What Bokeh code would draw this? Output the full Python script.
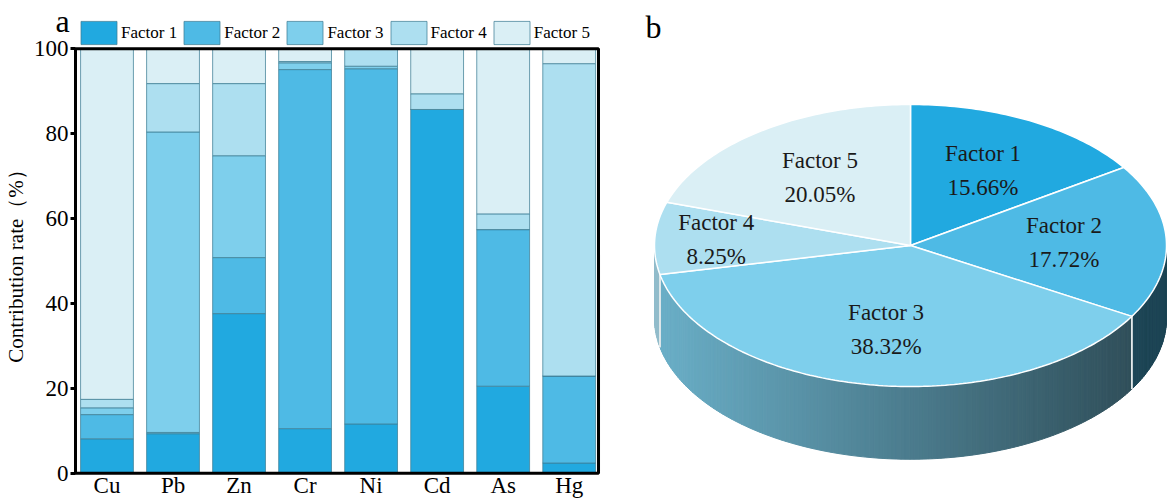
import numpy as np
from bokeh.plotting import figure
from bokeh.models import (ColumnDataSource, Range1d, FixedTicker, LinearAxis,
                          Legend, LegendItem, Label)
from bokeh.layouts import row
from bokeh.embed import file_html
from bokeh.resources import INLINE
from bokeh.core.properties import value

# ---------------- data ----------------
metals = ["Cu", "Pb", "Zn", "Cr", "Ni", "Cd", "As", "Hg"]
factor_names = ["Factor 1", "Factor 2", "Factor 3", "Factor 4", "Factor 5"]

# contribution (%) of each factor to each metal
factor1 = [8.1, 9.3, 37.6, 10.5, 11.6, 85.7, 20.5, 2.4]
factor2 = [5.7, 0.3, 13.2, 84.6, 83.7, 0.0, 36.9, 20.5]
factor3 = [1.6, 70.8, 24.0, 1.6, 0.6, 0.0, 0.0, 0.0]
factor4 = [2.0, 11.4, 17.0, 0.3, 4.1, 3.7, 3.7, 73.6]
factor5 = [82.6, 8.2, 8.2, 3.0, 0.0, 10.6, 38.9, 3.5]

# overall share of each factor (pie)
pie_shares = [15.66, 17.72, 38.32, 8.25, 20.05]

y_ticks = [0, 20, 40, 60, 80, 100]

# ---------------- styling ----------------
colors = ["#21a9e0", "#4ebae5", "#7ecfec", "#addff0", "#daeff5"]
SERIF = "Liberation Serif"
FONT = value(SERIF)
H = 499

# ---------------- panel a: stacked bars ----------------
# the plotting frame fills the whole canvas; the axes are pinned to the
# edges of the data box so that the panel letter and legend can sit around it
xpos = list(range(len(metals)))
box_left, box_right = -0.477, len(metals) - 1 + 0.444
src = ColumnDataSource(dict(x=xpos, **{
    "Factor 1": factor1, "Factor 2": factor2, "Factor 3": factor3,
    "Factor 4": factor4, "Factor 5": factor5}))

pa = figure(width=620, height=H, x_range=Range1d(-1.613, 7.777),
            y_range=Range1d(-6.2, 111.38), output_backend="svg",
            toolbar_location=None, min_border=0, x_axis_type=None,
            y_axis_type=None)
pa.xgrid.visible = False
pa.ygrid.visible = False
pa.outline_line_color = None

bars = pa.vbar_stack(factor_names, x="x", width=0.8, source=src,
                     fill_color=colors, line_color="#3f7f96",
                     line_width=1, line_alpha=0.75)

# data box outline
pa.quad(left=[box_left], right=[box_right], bottom=[y_ticks[0]],
        top=[y_ticks[-1]], fill_color=None, line_color="black",
        line_width=3)

yaxis = LinearAxis(fixed_location=box_left, bounds=(y_ticks[0], y_ticks[-1]),
                   ticker=FixedTicker(ticks=y_ticks))
yaxis.axis_line_color = None
yaxis.major_tick_out = 5
yaxis.major_tick_in = 0
yaxis.major_tick_line_width = 3
yaxis.minor_tick_line_color = None
yaxis.major_label_standoff = 2
yaxis.axis_label = "Contribution rate（%）"
yaxis.axis_label_standoff = 3
yaxis.axis_label_text_font = SERIF
yaxis.axis_label_text_font_style = "normal"
yaxis.axis_label_text_font_size = "21px"
yaxis.axis_label_text_color = "black"
pa.add_layout(yaxis, "left")

xaxis = LinearAxis(fixed_location=y_ticks[0], ticker=FixedTicker(ticks=xpos),
                   major_label_overrides={i: m for i, m in zip(xpos, metals)})
xaxis.axis_line_color = None
xaxis.major_tick_line_color = None
xaxis.major_tick_out = 0
xaxis.minor_tick_line_color = None
xaxis.major_label_standoff = 0
pa.add_layout(xaxis, "below")

for ax in (xaxis, yaxis):
    ax.major_label_text_font = SERIF
    ax.major_label_text_font_size = "23px"
    ax.major_label_text_color = "black"

legend = Legend(items=[LegendItem(label=n, renderers=[r])
                       for n, r in zip(factor_names, bars)],
                orientation="horizontal", location=(76, H - 47),
                glyph_width=45, glyph_height=29, label_standoff=0,
                spacing=2, padding=0, margin=0,
                border_line_color=None, background_fill_alpha=0,
                label_text_font=SERIF,
                label_text_font_size="17px", label_text_color="black")
pa.add_layout(legend, "center")

pa.add_layout(Label(x=55, y=H - 20, x_units="screen", y_units="screen",
                    text="a", text_font=SERIF, text_baseline="alphabetic",
                    text_font_size="32px", text_color="black"))

# ---------------- panel b: 3-D style pie ----------------
# ranges chosen so that a unit circle is drawn as a flattened ellipse
cx_px, cy_px, rx_px, ry_px = 290, 245, 256, 141
pb = figure(width=547, height=H,
            x_range=Range1d(-cx_px / rx_px, (547 - cx_px) / rx_px),
            y_range=Range1d(-(H - cy_px) / ry_px, cy_px / ry_px),
            output_backend="svg", toolbar_location=None, min_border=0,
            x_axis_type=None, y_axis_type=None)
pb.xgrid.visible = False
pb.ygrid.visible = False
pb.outline_line_color = None

depth = 0.516
total = sum(pie_shares)
cum = np.concatenate([[0.0], np.cumsum(pie_shares)]) / total * 360.0
starts = 90.0 - cum[:-1]   # clockwise from 12 o'clock
ends = 90.0 - cum[1:]


def hex_rgb(h):
    return tuple(int(h[i:i + 2], 16) for i in (1, 3, 5))


def shade(h, x):
    f = min(max(0.6 - 0.25 * x, 0.37), 0.85)
    r, g, b = hex_rgb(h)
    return "#%02x%02x%02x" % (int(r * f), int(g * f), int(b * f))


# side wall: thin strips along the front half of the rim
side_xs, side_ys, side_cols = [], [], []
sep_x, sep_y0, sep_y1 = [], [], []
for i in range(len(pie_shares)):
    lo = max(ends[i], -180.0)
    hi = min(starts[i], 0.0)
    if hi <= lo:
        continue
    n = max(2, int(np.ceil(hi - lo)))
    a = np.radians(np.linspace(lo, hi, n + 1))
    for k in range(n):
        xa, xb = np.cos(a[k]), np.cos(a[k + 1])
        ya, yb = np.sin(a[k]), np.sin(a[k + 1])
        side_xs.append([xa, xb, xb, xa])
        side_ys.append([ya, yb, yb - depth, ya - depth])
        side_cols.append(shade(colors[i], 0.5 * (xa + xb)))
    for edge in (lo, hi):
        if -180.0 < edge < 0.0:
            t = np.radians(edge)
            sep_x.append(np.cos(t))
            sep_y0.append(np.sin(t))
            sep_y1.append(np.sin(t) - depth)

pb.patches(side_xs, side_ys, fill_color=side_cols, line_color=side_cols,
           line_width=1)
pb.segment(x0=sep_x, y0=sep_y0, x1=sep_x, y1=sep_y1,
           line_color="#e4eaec", line_width=1.5)

# top face wedges
top_xs, top_ys = [], []
for i in range(len(pie_shares)):
    n = max(2, int(np.ceil(starts[i] - ends[i])))
    a = np.radians(np.linspace(starts[i], ends[i], n + 1))
    top_xs.append([0.0] + list(np.cos(a)))
    top_ys.append([0.0] + list(np.sin(a)))
pb.patches(top_xs, top_ys, fill_color=colors, line_color="white",
           line_width=1.5)

# slice labels, placed along each slice's mid angle
label_radius = [0.6, 0.6, 0.6, 0.76, 0.6]
mid = np.radians(0.5 * (starts + ends))
lx = [r * np.cos(m) for r, m in zip(label_radius, mid)]
ly = [r * np.sin(m) for r, m in zip(label_radius, mid)]
pct = ["%.2f%%" % s for s in pie_shares]
pb.text(x=lx, y=ly, text=factor_names, y_offset=-17, text_font=FONT,
        text_font_size="23px", text_align="center", text_baseline="middle",
        text_color="#1a1a1a")
pb.text(x=lx, y=ly, text=pct, y_offset=17, text_font=FONT,
        text_font_size="23px", text_align="center", text_baseline="middle",
        text_color="#1a1a1a")

pb.add_layout(Label(x=25, y=H - 26, x_units="screen", y_units="screen",
                    text="b", text_font=SERIF, text_baseline="alphabetic",
                    text_font_size="32px", text_color="black"))

layout = row(pa, pb)
open("out.html", "w").write(file_html(layout, INLINE))
